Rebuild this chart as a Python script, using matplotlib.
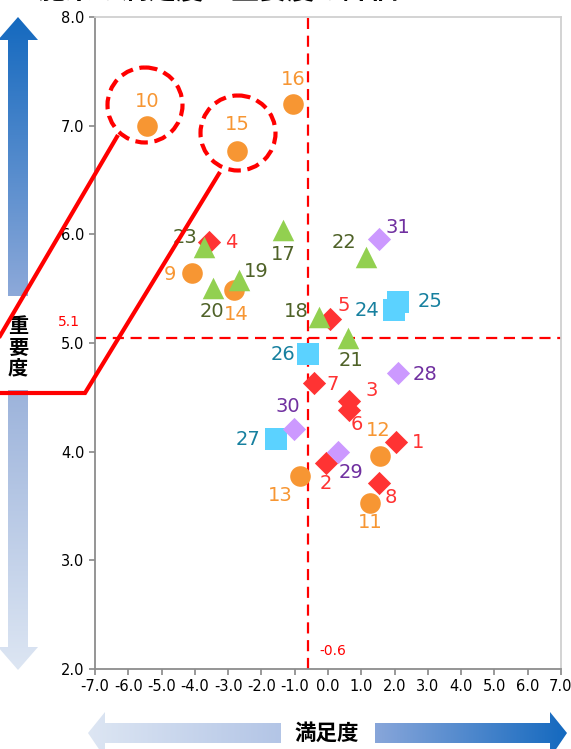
import numpy as np
import matplotlib
matplotlib.use('Agg')
import matplotlib.pyplot as plt
from matplotlib.patches import Polygon, Ellipse
from matplotlib.colors import LinearSegmentedColormap

plt.rcParams['font.family'] = ['DejaVu Sans', 'Noto Sans CJK JP']

# データ（満足度 x, 重要度 y）
circ_ids = ['10', '15', '16', '9', '14', '12', '13', '11']
circ_x = [-5.43, -2.73, -1.05, -4.08, -2.82, 1.56, -0.84, 1.26]
circ_y = [7.00, 6.77, 7.20, 5.64, 5.49, 3.96, 3.78, 3.53]

dia_ids = ['4', '5', '7', '3', '6', '1', '2', '8']
dia_x = [-3.57, 0.06, -0.42, 0.63, 0.63, 2.04, -0.06, 1.53]
dia_y = [5.93, 5.22, 4.63, 4.47, 4.38, 4.09, 3.90, 3.71]

tri_ids = ['23', '17', '20', '19', '18', '21', '22']
tri_x = [-3.72, -1.35, -3.45, -2.67, -0.27, 0.60, 1.14]
tri_y = [5.88, 6.04, 5.51, 5.58, 5.24, 5.05, 5.79]

sq_ids = ['25', '24', '26', '27']
sq_x = [2.10, 1.98, -0.60, -1.56]
sq_y = [5.38, 5.30, 4.90, 4.12]

pur_ids = ['31', '28', '30', '29']
pur_x = [1.53, 2.10, -1.02, 0.30]
pur_y = [5.96, 4.72, 4.21, 4.00]

mean_x = -0.6
mean_y = 5.05

# ラベル位置（マーカーからのずれ、ピクセル）
offs = {
    '10': (0, 24), '15': (0, 26), '16': (0, 24), '9': (-22, -1), '14': (2, -25),
    '12': (-2, 26), '13': (-20, -20), '11': (0, -20),
    '4': (22, -1), '5': (14, 14), '7': (19, -1), '3': (23, 10), '6': (8, -14),
    '1': (22, -1), '2': (0, -21), '8': (12, -14),
    '23': (-19, 10), '17': (0, -25), '20': (-1, -24), '19': (17, 8), '18': (-23, 5),
    '21': (3, -23), '22': (-22, 15),
    '25': (32, 0), '24': (-27, 0), '26': (-25, -1), '27': (-28, -1),
    '31': (19, 11), '28': (27, -1), '30': (-6, 22), '29': (13, -21),
}

fig = plt.figure(figsize=(5.71, 7.49), dpi=100)
ax = fig.add_axes([95 / 571, 1 - 669 / 749, 466 / 571, 652 / 749])

ax.axvline(mean_x, color='#FF0000', lw=1.6, ls=(0, (5, 3)), zorder=1)
ax.axhline(mean_y, color='#FF0000', lw=1.6, ls=(0, (5, 3)), zorder=1)

groups = [
    (circ_ids, circ_x, circ_y, 'o', 220, '#F79633', '#F79633'),
    (dia_ids, dia_x, dia_y, 'D', 140, '#FF3333', '#FF3333'),
    (tri_ids, tri_x, tri_y, '^', 240, '#92D050', '#4F6228'),
    (sq_ids, sq_x, sq_y, 's', 260, '#5BD2FF', '#17809F'),
    (pur_ids, pur_x, pur_y, 'D', 140, '#CC99FF', '#7030A0'),
]
for ids, xs, ys, mk, s, fc, tc in groups:
    ax.scatter(xs, ys, marker=mk, s=s, color=fc, linewidths=0, zorder=3)
    for i, x, y in zip(ids, xs, ys):
        ax.annotate(i, (x, y), xytext=offs[i], textcoords='offset pixels',
                    ha='center', va='center', fontsize=14, color=tc, zorder=4)

ax.set_xlim(-7, 7)
ax.set_ylim(2, 8)
ax.set_xticks(np.arange(-7, 8, 1))
ax.set_yticks(np.arange(2, 9, 1))
ax.xaxis.set_major_formatter(plt.FormatStrFormatter('%.1f'))
ax.yaxis.set_major_formatter(plt.FormatStrFormatter('%.1f'))
ax.tick_params(labelsize=10.5, color='#888888', length=4, width=1.2)
for sp in ax.spines.values():
    sp.set_color('#8C8C8C')
    sp.set_linewidth(1.3)
ax.spines['top'].set_color('#D0D0D0')
ax.spines['right'].set_color('#D0D0D0')

ax.text(mean_x + 0.35, 2.17, '-0.6', color='#FF0000', fontsize=10, ha='left', va='center')
ax.text(-7.45, 5.19, '5.1', color='#FF0000', fontsize=10, ha='right', va='center', clip_on=False)

# 上に重ねる注記用の軸（ピクセル座標）
ov = fig.add_axes([0, 0, 1, 1], zorder=5)
ov.set_xlim(0, 571)
ov.set_ylim(749, 0)
ov.axis('off')
ov.patch.set_alpha(0)


def grad_arrow(pts, c1, c2, vertical=True):
    poly = Polygon(pts, closed=True, facecolor='none', edgecolor='none')
    ov.add_patch(poly)
    xs = [p[0] for p in pts]
    ys = [p[1] for p in pts]
    cmap = LinearSegmentedColormap.from_list('g', [c1, c2])
    if vertical:
        grad = np.linspace(0, 1, 256).reshape(-1, 1)
    else:
        grad = np.linspace(0, 1, 256).reshape(1, -1)
    im = ov.imshow(grad, cmap=cmap, aspect='auto',
                   extent=(min(xs), max(xs), max(ys), min(ys)), zorder=1)
    im.set_clip_path(poly)


# 重要度の矢印
grad_arrow([(18, 17), (38, 40), (28, 40), (28, 296), (8, 296), (8, 40), (-2, 40)],
           '#1469BF', '#8DA9D9', vertical=True)
grad_arrow([(8, 390), (28, 390), (28, 647), (38, 647), (18, 670), (-2, 647), (8, 647)],
           '#9CB3DB', '#DDE6F3', vertical=True)
ov.text(18, 347, '重\n要\n度', ha='center', va='center', fontsize=14.5,
        fontweight='bold', linespacing=1.0, family=['Noto Sans CJK JP'])

# 満足度の矢印
grad_arrow([(88, 733), (105, 712), (105, 723), (281, 723), (281, 743), (105, 743), (105, 758)],
           '#DDE6F3', '#B3C5E6', vertical=False)
grad_arrow([(375, 723), (550, 723), (550, 712), (567, 733), (550, 758), (550, 743), (375, 743)],
           '#88A6DA', '#1469BF', vertical=False)
ov.text(327, 733, '満足度', ha='center', va='center', fontsize=15.5,
        fontweight='bold', family=['Noto Sans CJK JP'])

# タイトル（上端で切れている）
ov.text(218, 4, '施策の満足度と重要度の評価', ha='center', va='bottom',
        fontsize=20, fontweight='bold', family=['Noto Sans CJK JP'], clip_on=False)

# 赤い吹き出し
ov.plot([118, -10], [135, 353], color='#FF0000', lw=3, solid_capstyle='butt', zorder=6)
ov.plot([220, 85, -5], [172, 393, 393], color='#FF0000', lw=3, solid_capstyle='butt',
        solid_joinstyle='miter', zorder=6)
for cx, cy in [(145, 105), (238, 133)]:
    ov.add_patch(Ellipse((cx, cy), 75, 75, facecolor='none', edgecolor='#FF0000',
                         lw=3, ls=(0, (3, 1.6)), zorder=6))

fig.savefig('out.png', dpi=100)
